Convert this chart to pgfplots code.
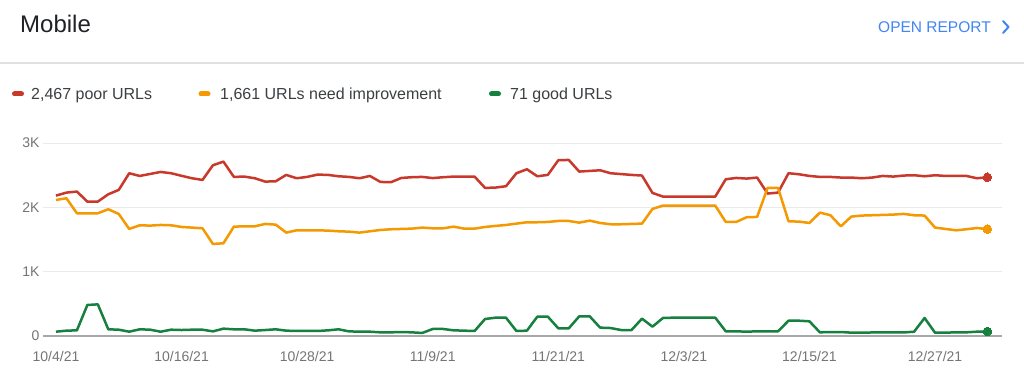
\documentclass[border=0pt]{standalone}
\usepackage{pgfplots}
\pgfplotsset{compat=1.18}
\usepackage{pgfplotstable}
\usepackage{fontspec}
\setmainfont{Liberation Sans}
\definecolor{poorred}{RGB}{200,57,43}
\definecolor{impor}{RGB}{244,153,0}
\definecolor{goodgr}{RGB}{22,128,62}
\definecolor{ticktxt}{RGB}{117,117,117}
\definecolor{gridc}{RGB}{234,234,234}
\definecolor{axisc}{RGB}{168,168,168}
\definecolor{linkblue}{RGB}{66,133,244}
\definecolor{titletxt}{RGB}{32,33,36}
\definecolor{legtxt}{RGB}{60,64,67}
\definecolor{sepc}{RGB}{224,224,224}

\pgfplotstableread{
d poor imp good
0 2182 2115 67
1 2229 2141 83
2 2245 1908 88
3 2089 1908 482
4 2089 1908 492
5 2203 1970 104
6 2271 1897 98
7 2530 1664 67
8 2488 1721 104
9 2519 1716 98
10 2550 1726 67
11 2530 1721 98
12 2490 1695 93
13 2452 1685 98
14 2426 1674 98
15 2654 1431 72
16 2711 1441 114
17 2473 1700 104
18 2478 1705 104
19 2452 1705 83
20 2400 1742 93
21 2405 1731 104
22 2504 1607 83
23 2452 1643 78
24 2473 1643 78
25 2509 1643 78
26 2504 1638 88
27 2483 1628 104
28 2473 1622 72
29 2452 1607 67
30 2488 1628 67
31 2395 1648 57
32 2390 1659 57
33 2457 1664 62
34 2468 1669 57
35 2473 1685 47
36 2455 1674 109
37 2468 1674 109
38 2478 1700 88
39 2478 1669 83
40 2478 1669 78
41 2302 1695 264
42 2307 1711 285
43 2328 1726 285
44 2530 1747 78
45 2592 1768 83
46 2483 1768 301
47 2504 1773 301
48 2732 1788 119
49 2737 1788 119
50 2556 1762 306
51 2566 1793 306
52 2576 1757 130
53 2530 1737 124
54 2517 1737 93
55 2504 1742 93
56 2494 1747 270
57 2224 1975 145
58 2167 2027 280
59 2167 2027 285
60 2167 2027 285
61 2167 2027 285
62 2167 2027 285
63 2167 2027 285
64 2436 1773 73
65 2457 1773 73
66 2447 1846 67
67 2463 1851 73
68 2214 2302 73
69 2229 2302 73
70 2530 1783 238
71 2514 1778 238
72 2488 1757 228
73 2473 1918 57
74 2473 1877 62
75 2463 1705 62
76 2463 1856 52
77 2452 1872 52
78 2463 1877 55
79 2488 1882 55
80 2478 1887 55
81 2494 1898 55
82 2499 1877 67
83 2483 1872 280
84 2499 1685 52
85 2488 1664 52
86 2488 1643 57
87 2488 1659 57
88 2452 1679 67
89 2467 1661 71
}\datatable

\begin{document}
\begin{tikzpicture}[x=1pt,y=1pt]
\useasboundingbox (0,0) rectangle (1024,383);
\fill[white] (0,0) rectangle (1024,383);
% header
\node[anchor=base west, inner sep=0, font=\fontsize{24}{28}\selectfont, text=titletxt] at (20,350) {Mobile};
\node[anchor=base west, inner sep=0, font=\fontsize{15.5}{18}\selectfont, text=linkblue] at (878,350) {OPEN REPORT};
\draw[linkblue, line width=2pt, line cap=round, line join=round] (1003,362) -- (1008.5,356) -- (1003,350);
\draw[sepc, line width=1.6pt] (0,320) -- (1024,320);
% legend
\draw[poorred, line width=5pt, line cap=round] (14.5,289) -- (21.5,289);
\node[anchor=base west, inner sep=0, font=\fontsize{16}{19}\selectfont, text=legtxt] at (31,283.5) {2,467 poor URLs};
\draw[impor, line width=5pt, line cap=round] (201,289) -- (208,289);
\node[anchor=base west, inner sep=0, font=\fontsize{16}{19}\selectfont, text=legtxt] at (220,283.5) {1,661 URLs need improvement};
\draw[goodgr, line width=5pt, line cap=round] (491.5,289) -- (498.5,289);
\node[anchor=base west, inner sep=0, font=\fontsize{16}{19}\selectfont, text=legtxt] at (510,283.5) {71 good URLs};
\begin{axis}[
  at={(43pt,47pt)}, anchor=south west,
  scale only axis, width=959pt, height=193pt,
  xmin=-1.24, xmax=90.4, ymin=0, ymax=3000,
  axis line style={draw=none},
  major tick length=0pt,
  ymajorgrids, grid style={gridc, line width=1pt},
  ytick={0,1000,2000,3000}, yticklabels={0,1K,2K,3K},
  xtick={0,12,24,36,48,60,72,84},
  xticklabels={10/4/21,10/16/21,10/28/21,11/9/21,11/21/21,12/3/21,12/15/21,12/27/21},
  ticklabel style={font=\fontsize{14}{16}\selectfont, text=ticktxt},
  xticklabel style={yshift=-12pt},
  clip=false,
]
\draw[axisc, line width=1.8pt] (rel axis cs:0,0) -- (rel axis cs:1,0);
\addplot[poorred, line width=2.5pt, line join=round, mark=*, mark indices={90}, mark size=4.3pt, mark options={fill=poorred, draw=poorred, line width=0pt}] table[x=d,y=poor]{\datatable};
\addplot[impor, line width=2.5pt, line join=round, mark=*, mark indices={90}, mark size=4.3pt, mark options={fill=impor, draw=impor, line width=0pt}] table[x=d,y=imp]{\datatable};
\addplot[goodgr, line width=2.5pt, line join=round, mark=*, mark indices={90}, mark size=4.3pt, mark options={fill=goodgr, draw=goodgr, line width=0pt}] table[x=d,y=good]{\datatable};
\end{axis}
\end{tikzpicture}
\end{document}
